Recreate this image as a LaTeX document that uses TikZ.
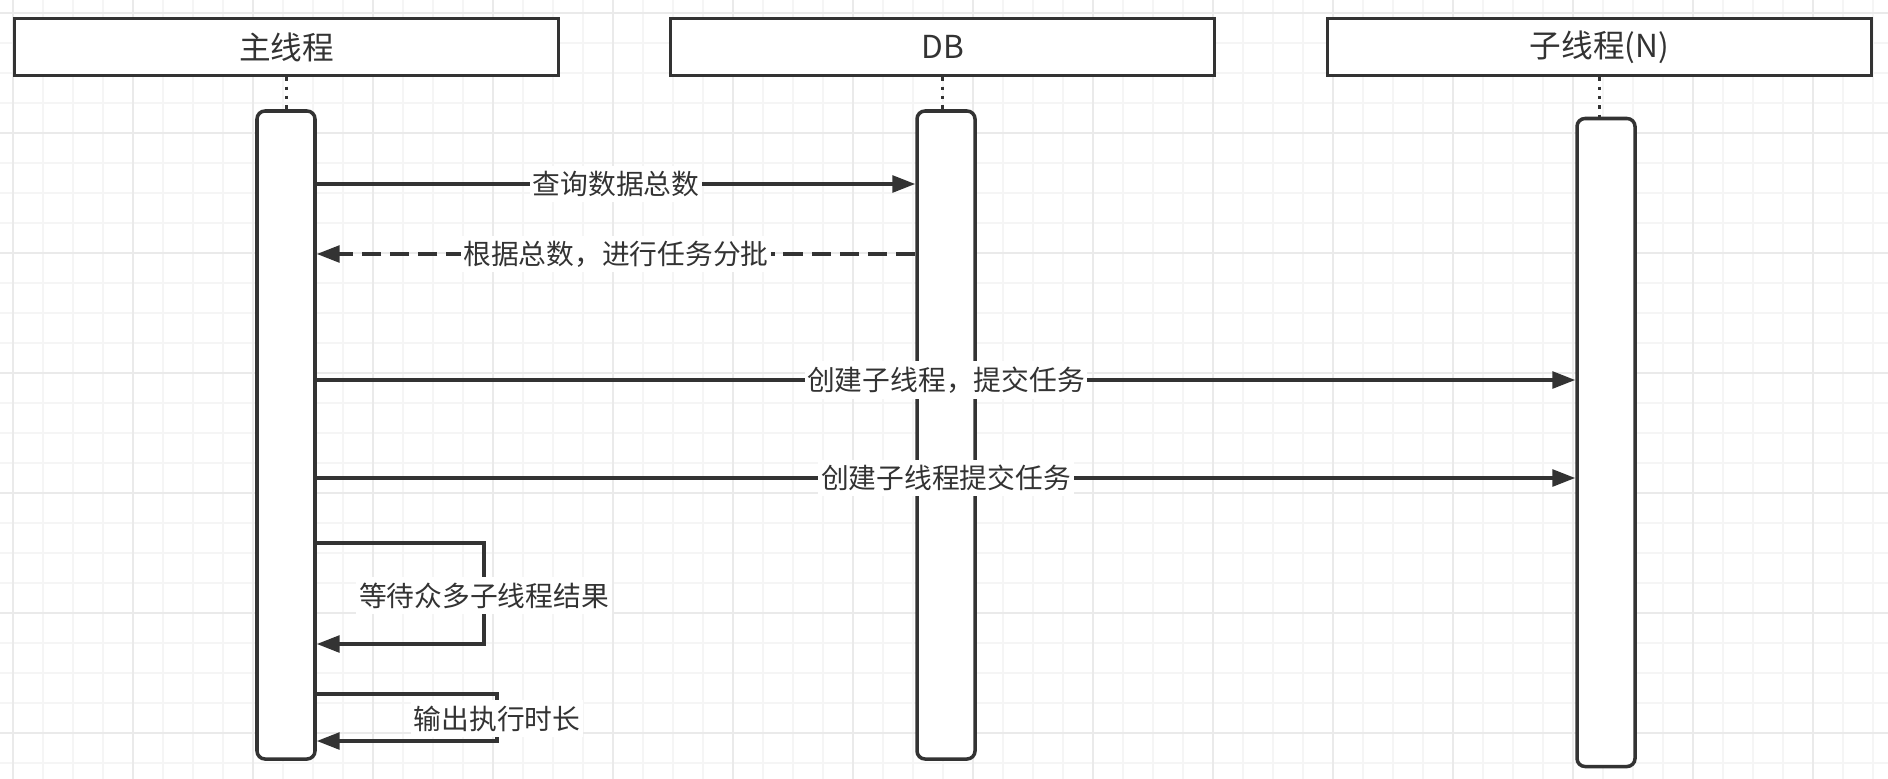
\documentclass[tikz,border=0pt]{standalone}
\usepackage{fontspec}
\setmainfont{Noto Sans CJK SC}
\usepackage{tikz}
\usetikzlibrary{arrows.meta}
\definecolor{inkgray}{RGB}{51,51,51}
\definecolor{gridminor}{RGB}{245,245,245}
\definecolor{gridmajor}{RGB}{234,234,234}

\begin{document}
\begin{tikzpicture}[
  color=inkgray, line width=2pt,
  head/.style={draw, fill=white, minimum width=10.88cm, minimum height=1.14cm, inner sep=0pt, font=\fontsize{18}{22}\selectfont},
  life/.style={draw, fill=white, rounded corners=0.16cm, minimum width=1.16cm, minimum height=12.96cm, inner sep=0pt},
  dots/.style={dash pattern=on 2pt off 3.3pt},
  msg/.style={-{Triangle[length=13pt, width=9.5pt]}},
  reply/.style={msg, dash pattern=on 11pt off 5pt},
  lbl/.style={fill=white, inner xsep=1.5pt, inner ysep=3pt, font=\fontsize{15.8}{19}\selectfont}
]
\useasboundingbox (0,0) rectangle (37.76,-15.56);
\fill[white] (0,0) rectangle (37.76,-15.56);
% background grid
\begin{scope}
  \clip (0,0) rectangle (37.76,-15.56);
  \draw[gridminor, line width=1pt, shift={(0.26,-0.26)}] (-0.6,0.6) grid[step=0.6] (37.8,-15.6);
  \draw[gridmajor, line width=1pt, shift={(0.26,-0.26)}] (-2.4,2.4) grid[step=2.4] (37.8,-15.6);
\end{scope}

\node[head] (mainh) at (5.73,-0.94)  {主线程};
\node[head] (dbh)   at (18.85,-0.94) {DB};
\node[head] (subh)  at (31.99,-0.94) {子线程(N)};
\node[life] (mainl) at (5.72,-8.70)  {};
\node[life] (dbl)   at (18.92,-8.70) {};
\node[life] (subl)  at (32.12,-8.85) {};
\draw[dots] (mainh.south) -- (mainh.south |- mainl.north);
\draw[dots] (dbh.south) -- (dbh.south |- dbl.north);
\draw[dots] (subh.south) -- (subh.south |- subl.north);

% message rows
\coordinate (q1) at (0,-3.68);
\coordinate (q2) at (0,-5.08);
\coordinate (q3) at (0,-7.60);
\coordinate (q4) at (0,-9.56);
\draw[msg]   (mainl.east |- q1) -- node[lbl] {查询数据总数} (dbl.west |- q1);
\draw[reply] (dbl.west |- q2) -- node[lbl] {根据总数，进行任务分批} (mainl.east |- q2);
\draw[msg]   (mainl.east |- q3) -- node[lbl] {创建子线程，提交任务} (subl.west |- q3);
\draw[msg]   (mainl.east |- q4) -- node[lbl] {创建子线程提交任务} (subl.west |- q4);

% self calls
\coordinate (w1) at (9.68,-10.86);
\coordinate (w2) at (9.68,-12.88);
\coordinate (t1) at (9.94,-13.88);
\coordinate (t2) at (9.94,-14.82);
\draw[msg] (mainl.east |- w1) -- (w1) -- node[lbl, pos=0.52] {等待众多子线程结果} (w2) -- (mainl.east |- w2);
\draw[msg] (mainl.east |- t1) -- (t1) -- node[lbl, pos=0.52] {输出执行时长} (t2) -- (mainl.east |- t2);
\end{tikzpicture}
\end{document}
